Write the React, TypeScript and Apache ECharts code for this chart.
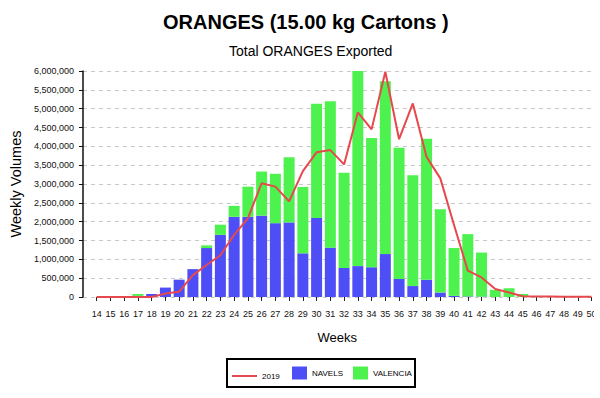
import { useEffect, useRef } from "react";
import * as echarts from "echarts";

const weeks = [14, 15, 16, 17, 18, 19, 20, 21, 22, 23, 24, 25, 26, 27, 28, 29, 30, 31, 32, 33, 34, 35, 36, 37, 38, 39, 40, 41, 42, 43, 44, 45, 46, 47, 48, 49, 50];
const navels = [0, 0, 0, 30000, 80000, 250000, 460000, 740000, 1300000, 1650000, 2130000, 2130000, 2160000, 1960000, 1980000, 1160000, 2100000, 1310000, 770000, 820000, 790000, 1140000, 480000, 290000, 460000, 120000, 30000, 15000, 10000, 0, 0, 0, 0, 0, 0, 0, 0];
const valencia = [0, 0, 0, 50000, 0, 0, 0, 0, 70000, 270000, 290000, 800000, 1170000, 1310000, 1730000, 1760000, 3030000, 3890000, 2530000, 5180000, 3430000, 4590000, 3480000, 2940000, 3740000, 2210000, 1270000, 1655000, 1170000, 190000, 230000, 80000, 0, 0, 0, 0, 0];
const total2019 = [0, 0, 0, 0, 0, 90000, 140000, 580000, 850000, 1110000, 1650000, 2090000, 3020000, 2930000, 2540000, 3340000, 3840000, 3900000, 3520000, 4900000, 4450000, 5980000, 4190000, 5140000, 3720000, 3150000, 1910000, 700000, 520000, 210000, 120000, 20000, 10000, 10000, 5000, 5000, 5000];

const FONT = "'Liberation Sans', Arial, sans-serif";
const BLUE = "#4E4EF6";
const GREEN = "#4EF24E";
const RED = "#E6484E";

// a leading empty slot (week 13) so that the axis starts half a step before week 14
const axisCats = [String(weeks[0] - 1), ...weeks.map(String)];

export default function App() {
  const ref = useRef<HTMLDivElement>(null);
  useEffect(() => {
    document.body.style.margin = "0";
    const chart = echarts.init(ref.current!, null, { renderer: "svg" });
    chart.setOption({
      animation: false,
      backgroundColor: "#fff",
      textStyle: { fontFamily: FONT },
      title: [
        {
          text: "ORANGES (15.00 kg Cartons )",
          left: 163,
          top: 12,
          padding: 0,
          textStyle: { fontFamily: FONT, fontSize: 20, fontWeight: "bold", color: "#000" },
        },
        {
          text: "Total ORANGES Exported",
          left: 229,
          top: 44,
          padding: 0,
          textStyle: { fontFamily: FONT, fontSize: 14, fontWeight: "normal", color: "#000" },
        },
      ],
      grid: { left: 76, top: 71, width: 515.5, height: 226 },
      legend: [
        {
          data: [{ name: "2019", icon: "rect" }],
          left: 232,
          top: 372,
          padding: 0,
          itemWidth: 25,
          itemHeight: 2,
          textStyle: { fontFamily: FONT, fontSize: 8, color: "#000" },
        },
        {
          data: ["NAVELS", "VALENCIA"],
          left: 292,
          top: 366.5,
          padding: 0,
          itemWidth: 15,
          itemHeight: 13,
          itemGap: 10,
          icon: "rect",
          textStyle: { fontFamily: FONT, fontSize: 8, color: "#000" },
        },
      ],
      graphic: [
        {
          type: "rect",
          shape: { x: 227, y: 359, width: 188, height: 28 },
          style: { fill: "none", stroke: "#000", lineWidth: 2 },
        },
      ],
      xAxis: {
        type: "category",
        data: axisCats,
        boundaryGap: false,
        name: "Weeks",
        nameLocation: "middle",
        nameGap: 34,
        nameTextStyle: { fontFamily: FONT, fontSize: 13, color: "#000" },
        axisLine: { show: false },
        axisTick: { show: true, length: 4, interval: (i: number) => i > 0, lineStyle: { color: "#222" } },
        splitLine: { show: false },
        axisLabel: {
          interval: (i: number) => i > 0,
          margin: 12,
          fontSize: 9,
          fontFamily: FONT,
          color: "#111",
        },
      },
      yAxis: {
        type: "value",
        min: 0,
        max: 6000000,
        interval: 500000,
        name: "Weekly Volumes",
        nameLocation: "middle",
        nameGap: 55,
        nameTextStyle: { fontFamily: FONT, fontSize: 14.5, color: "#000" },
        axisLine: { show: true, lineStyle: { color: "#111", width: 1.5 } },
        axisTick: { show: true, length: 4, lineStyle: { color: "#111" } },
        splitLine: { show: true, lineStyle: { color: "#c8c8c8", type: [4, 4], width: 1 } },
        axisLabel: {
          margin: 9,
          fontSize: 9,
          fontFamily: FONT,
          color: "#111",
          formatter: (v: number) => v.toLocaleString("en-US"),
        },
      },
      series: [
        {
          name: "NAVELS",
          type: "bar",
          stack: "total",
          barWidth: 11,
          itemStyle: { color: BLUE },
          data: [null, ...navels],
        },
        {
          name: "VALENCIA",
          type: "bar",
          stack: "total",
          barWidth: 11,
          itemStyle: { color: GREEN },
          data: [null, ...valencia],
        },
        {
          name: "2019",
          type: "line",
          symbol: "none",
          z: 5,
          lineStyle: { color: RED, width: 2 },
          itemStyle: { color: RED },
          data: [null, ...total2019],
        },
      ],
    });
    return () => chart.dispose();
  }, []);
  return (
    <div style={{ position: "absolute", left: 0, top: 0, width: 594, height: 398, overflow: "hidden", background: "#fff" }}>
      <div ref={ref} style={{ width: 600, height: 398 }} />
    </div>
  );
}
